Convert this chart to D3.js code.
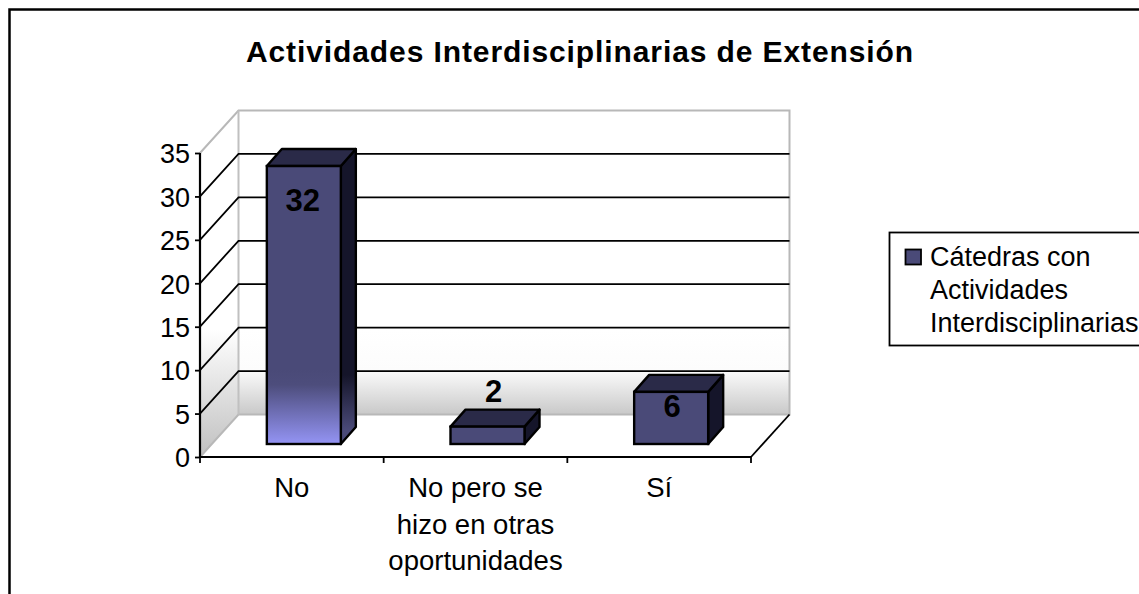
<!DOCTYPE html>
<html>
<head>
<meta charset="utf-8">
<style>
  html, body { margin: 0; padding: 0; background: #fff; }
  svg { display: block; }
  text { font-family: "Liberation Sans", Arial, sans-serif; fill: #000; }
</style>
<script src="https://cdn.jsdelivr.net/npm/d3@7"></script>
</head>
<body>
<svg id="chart" width="1139" height="594"></svg>
<script>
const chartTitle = 'Actividades Interdisciplinarias de Extensión'
const categories = [['No'], ['No pero se', 'hizo en otras', 'oportunidades'], ['Sí']]
const values = [32, 2, 6]
const yTicks = [0, 5, 10, 15, 20, 25, 30, 35]
const legendLines = ['Cátedras con', 'Actividades', 'Interdisciplinarias']

const svg = d3.select('#chart')
const defs = svg.append('defs')

const y = d3.scaleLinear().domain([0, 35]).range([457, 153])
const x = d3.scaleBand().domain(d3.range(categories.length)).range([200, 751])

// offset of the back wall from the front of the 3d box
const depthX = 38.5
const depthY = -42.5
// the bars stand part way into the box
const barOffX = 12
const barOffY = -13
const barCapX = 15
const barCapY = -17
const barWidth = 74

function gradient(id, y1, y2, stops) {
  const g = defs.append('linearGradient')
    .attr('id', id)
    .attr('gradientUnits', 'userSpaceOnUse')
    .attr('x1', 0).attr('x2', 0)
    .attr('y1', y1).attr('y2', y2)
  stops.forEach(([o, c]) => g.append('stop').attr('offset', o).attr('stop-color', c))
}

gradient('wall', 330, 415, [[0, '#ffffff'], [0.47, '#fcfcfc'], [0.55, '#f4f4f4'], [1, '#c8c8c8']])
gradient('sideWall', 330, 457, [[0, '#ffffff'], [1, '#c0c0c0']])
gradient('barFront', 370, 444, [[0, '#4a4a78'], [0.2, '#4d4d7c'], [1, '#9494f4']])
gradient('barSide', 375, 430, [[0, '#15152a'], [1, '#4a4a78']])

// frame, cut off at the right and the bottom of the picture
svg.append('path')
  .attr('d', 'M9.5,594V9.5H1139')
  .attr('fill', 'none')
  .attr('stroke', '#000')
  .attr('stroke-width', 2.5)

const left = x.range()[0]
const right = x.range()[1]
const poly = (pts) => pts.map((p) => p.join(',')).join(' ')

// walls
svg.append('polygon')
  .attr('points', poly([[left + depthX, y(35) + depthY], [right + depthX, y(35) + depthY], [right + depthX, y(0) + depthY], [left + depthX, y(0) + depthY]]))
  .attr('fill', 'url(#wall)')
svg.append('polygon')
  .attr('points', poly([[left, y(35)], [left + depthX, y(35) + depthY], [left + depthX, y(0) + depthY], [left, y(0)]]))
  .attr('fill', 'url(#sideWall)')

// grey outline of the walls
svg.append('path')
  .attr('d', `M${left},${y(35)}L${left + depthX},${y(35) + depthY}H${right + depthX}V${y(0) + depthY}H${left + depthX}L${left},${y(0)}`)
  .attr('fill', 'none')
  .attr('stroke', '#b8b8b8')
  .attr('stroke-width', 2)
svg.append('line')
  .attr('x1', left + depthX).attr('x2', left + depthX)
  .attr('y1', y(35) + depthY).attr('y2', y(0) + depthY)
  .attr('stroke', '#c0c0c0')
  .attr('stroke-width', 2)

// gridlines on the side wall and the back wall
yTicks.filter((t) => t > 0 && t < 35).forEach((t) => {
  svg.append('path')
    .attr('d', `M${left},${y(t)}L${left + depthX},${y(t) + depthY}H${right + depthX}`)
    .attr('fill', 'none')
    .attr('stroke', '#000')
    .attr('stroke-width', 1.8)
})

// floor, right edge
svg.append('line')
  .attr('x1', right).attr('y1', y(0))
  .attr('x2', right + depthX).attr('y2', y(0) + depthY)
  .attr('stroke', '#000')
  .attr('stroke-width', 1.8)

// bars
const bars = svg.append('g').selectAll('g')
  .data(values)
  .join('g')

const barLeft = (i) => x(i) + x.bandwidth() / 2 + barOffX - barWidth / 2
const barTop = (d) => y(d) + barOffY
const barBottom = y(0) + barOffY

// only the tall bar reaches into the light end of the fill
bars.append('polygon')
  .attr('points', (d, i) => poly([
    [barLeft(i) + barWidth, barTop(d)],
    [barLeft(i) + barWidth + barCapX, barTop(d) + barCapY],
    [barLeft(i) + barWidth + barCapX, barBottom + barCapY],
    [barLeft(i) + barWidth, barBottom]
  ]))
  .attr('fill', (d, i) => (i === 0 ? 'url(#barSide)' : '#15152a'))
  .attr('stroke', '#000')
  .attr('stroke-width', 2.4)
  .attr('stroke-linejoin', 'round')
bars.append('polygon')
  .attr('points', (d, i) => poly([
    [barLeft(i), barTop(d)],
    [barLeft(i) + barCapX, barTop(d) + barCapY],
    [barLeft(i) + barWidth + barCapX, barTop(d) + barCapY],
    [barLeft(i) + barWidth, barTop(d)]
  ]))
  .attr('fill', '#2a2a48')
  .attr('stroke', '#000')
  .attr('stroke-width', 2.4)
  .attr('stroke-linejoin', 'round')
bars.append('rect')
  .attr('x', (d, i) => barLeft(i))
  .attr('y', barTop)
  .attr('width', barWidth)
  .attr('height', (d) => barBottom - barTop(d))
  .attr('fill', (d, i) => (i === 0 ? 'url(#barFront)' : '#4a4a78'))
  .attr('stroke', '#000')
  .attr('stroke-width', 2.4)

// the value labels do not sit the same way on each bar
const labelDy = [45, -25, 25]
const labelDx = [-1, 6, 1]
bars.append('text')
  .attr('x', (d, i) => barLeft(i) + barWidth / 2 + labelDx[i])
  .attr('y', (d, i) => barTop(d) + labelDy[i])
  .attr('text-anchor', 'middle')
  .attr('font-size', 31)
  .attr('font-weight', 'bold')
  .text((d) => d)

// front axes
svg.append('path')
  .attr('d', `M${left},${y(35)}V${y(0)}H${right}`)
  .attr('fill', 'none')
  .attr('stroke', '#000')
  .attr('stroke-width', 2.2)

const yAxis = d3.axisLeft(y).tickValues(yTicks).tickSize(5).tickSizeOuter(0)
const yAxisG = svg.append('g').attr('transform', `translate(${left},0)`).call(yAxis)
yAxisG.select('.domain').remove()
yAxisG.selectAll('.tick line').attr('stroke', '#000').attr('stroke-width', 1.8)
yAxisG.selectAll('.tick text')
  .attr('font-size', 27)
  .attr('font-family', '"Liberation Sans", Arial, sans-serif')
  .attr('x', -10)
  .attr('dy', '0.36em')

// category separators below the floor
const catBounds = d3.range(categories.length + 1).map((i) => left + i * x.step())
svg.append('g').selectAll('line')
  .data(catBounds)
  .join('line')
  .attr('x1', (d) => d).attr('x2', (d) => d)
  .attr('y1', y(0)).attr('y2', y(0) + 6)
  .attr('stroke', '#000')
  .attr('stroke-width', 1.8)

svg.append('g').selectAll('text')
  .data(categories)
  .join('text')
  .attr('text-anchor', 'middle')
  .attr('font-size', 27.5)
  .attr('transform', (d, i) => `translate(${x(i) + x.bandwidth() / 2},0)`)
  .each(function (d) {
    d3.select(this).selectAll('tspan')
      .data(d)
      .join('tspan')
      .attr('x', 0)
      .attr('y', (l, k) => 497 + k * 36.5)
      .text((l) => l)
  })

// title
svg.append('text')
  .attr('x', 580)
  .attr('y', 62)
  .attr('text-anchor', 'middle')
  .attr('font-size', 30)
  .attr('letter-spacing', 0.9)
  .attr('font-weight', 'bold')
  .text(chartTitle)

// legend
svg.append('rect')
  .attr('x', 889.5).attr('y', 232.5)
  .attr('width', 260).attr('height', 113)
  .attr('fill', '#fff')
  .attr('stroke', '#000')
  .attr('stroke-width', 1.8)
svg.append('rect')
  .attr('x', 905.5).attr('y', 249.5)
  .attr('width', 15.5).attr('height', 15)
  .attr('fill', '#4a4a78')
  .attr('stroke', '#000')
  .attr('stroke-width', 1.8)
svg.append('g').selectAll('text')
  .data(legendLines)
  .join('text')
  .attr('x', 930)
  .attr('y', (d, i) => 266 + i * 33)
  .attr('font-size', 27)
  .text((d) => d)
</script>
</body>
</html>
